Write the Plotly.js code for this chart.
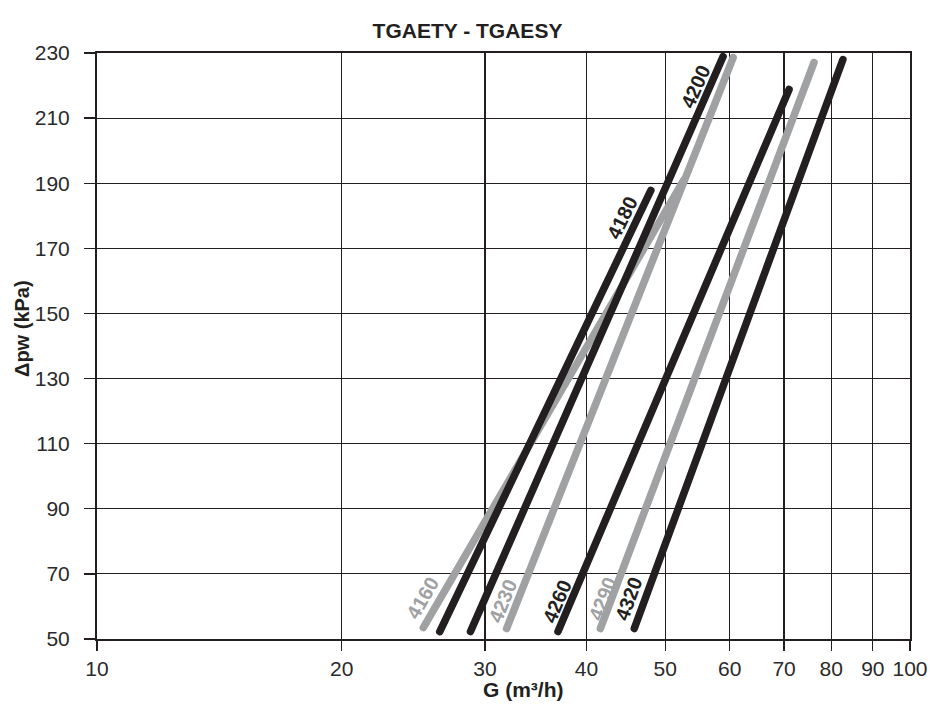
<!DOCTYPE html>
<html>
<head>
<meta charset="utf-8">
<script src="https://cdn.plot.ly/plotly-3.0.1.min.js"></script>
<style>
  html, body { margin: 0; padding: 0; background: #ffffff; }
  #chart { width: 930px; height: 704px; }
  .scatterlayer .js-line { stroke-linecap: round; }
</style>
</head>
<body>
<div id="chart"></div>
<script>
// ---- data ----
const models    = ['4160', '4180', '4200', '4230', '4260', '4290', '4320'];
const flowStart = [25.2, 26.4, 28.8, 31.9, 36.9, 41.6, 45.8];   // G (m³/h) at lower end
const flowEnd   = [52.7, 48.0, 58.9, 60.6, 71.0, 76.2, 82.7];   // G (m³/h) at upper end
const dpStart   = [53.5, 52.3, 52.3, 53.2, 52.3, 53.2, 53.2];   // Δpw (kPa) at lower end
const dpEnd     = [191.0, 187.8, 228.9, 228.6, 218.8, 227.1, 228.0]; // Δpw (kPa) at upper end
const xTickVals   = [10, 20, 30, 40, 50, 60, 70, 80, 90, 100];
const xTickLabels = ['10', '20', '30', '40', '50', '60', '70', '80', '90', '100'];
const yTickVals   = [50, 70, 90, 110, 130, 150, 170, 190, 210, 230];

// ---- styling (kept apart from data) ----
const BLACK = '#231f20';
const GRAY = '#a0a1a3';
const tone = { '4160': GRAY, '4180': BLACK, '4200': BLACK, '4230': GRAY, '4260': BLACK, '4290': GRAY, '4320': BLACK };
const labelStyle = {
  '4160': { at: 'start', dx: -1,  dy: 30,  angle: -60 },
  '4180': { at: 'end',   dx: -28, dy: -27, angle: -64 },
  '4200': { at: 'end',   dx: -28, dy: -30, angle: -66 },
  '4230': { at: 'start', dx: -4,  dy: 28,  angle: -68 },
  '4260': { at: 'start', dx: -1,  dy: 31,  angle: -67 },
  '4290': { at: 'start', dx: 2,   dy: 30,  angle: -69 },
  '4320': { at: 'start', dx: -6,  dy: 30,  angle: -70 }
};
const FONT = 'Liberation Sans, Arial, Helvetica, sans-serif';

// ---- build traces ----
const traces = models.map((m, i) => ({
  type: 'scatter',
  mode: 'lines',
  x: [flowStart[i], flowEnd[i]],
  y: [dpStart[i], dpEnd[i]],
  line: { color: tone[m], width: 7.5 },
  hoverinfo: 'skip',
  showlegend: false
}));

const labelAnnotations = models.map((m, i) => {
  const s = labelStyle[m];
  const gx = s.at === 'start' ? flowStart[i] : flowEnd[i];
  const gy = s.at === 'start' ? dpStart[i] : dpEnd[i];
  return {
    xref: 'x', yref: 'y',
    x: Math.log10(gx), y: gy,
    xshift: s.dx, yshift: s.dy,
    text: '<b>' + m + '</b>',
    showarrow: false,
    textangle: s.angle,
    xanchor: 'center', yanchor: 'middle',
    font: { family: FONT, size: 20, color: tone[m] }
  };
});

const titleAnnotations = [
  {
    xref: 'paper', yref: 'paper', x: 0.524, y: -0.087,
    text: '<b>G (m³/h)</b>', showarrow: false,
    xanchor: 'center', yanchor: 'middle',
    font: { family: FONT, size: 21, color: BLACK }
  },
  {
    xref: 'paper', yref: 'paper', x: -0.0923, y: 0.5307,
    text: '<b>Δpw (kPa)</b>', showarrow: false, textangle: -90,
    xanchor: 'center', yanchor: 'middle',
    font: { family: FONT, size: 20, color: BLACK }
  }
];

const axisCommon = {
  showgrid: true, gridcolor: BLACK, gridwidth: 1.2,
  showline: true, mirror: true, linecolor: BLACK, linewidth: 2,
  zeroline: false,
  ticks: 'outside', tickcolor: BLACK, tickwidth: 1.3,
  tickfont: { family: FONT, size: 21, color: '#2a2a2a' },
  fixedrange: true
};

const layout = {
  width: 930, height: 704,
  margin: { l: 97, r: 20, t: 53, b: 65 },
  paper_bgcolor: '#ffffff', plot_bgcolor: '#ffffff',
  title: {
    text: '<b>TGAETY - TGAESY</b>',
    x: 467.5 / 930, xanchor: 'center',
    y: 1 - 31 / 704, yanchor: 'middle',
    font: { family: FONT, size: 21, color: BLACK }
  },
  xaxis: Object.assign({}, axisCommon, {
    type: 'log', range: [1, 2],
    tickmode: 'array', tickvals: xTickVals, ticktext: xTickLabels,
    ticklen: 10
  }),
  yaxis: Object.assign({}, axisCommon, {
    range: [50, 230],
    tickmode: 'array', tickvals: yTickVals,
    ticklen: 11, ticklabelstandoff: 10
  }),
  annotations: labelAnnotations.concat(titleAnnotations),
  showlegend: false
};

Plotly.newPlot('chart', traces, layout, { displayModeBar: false, staticPlot: true });
</script>
</body>
</html>
